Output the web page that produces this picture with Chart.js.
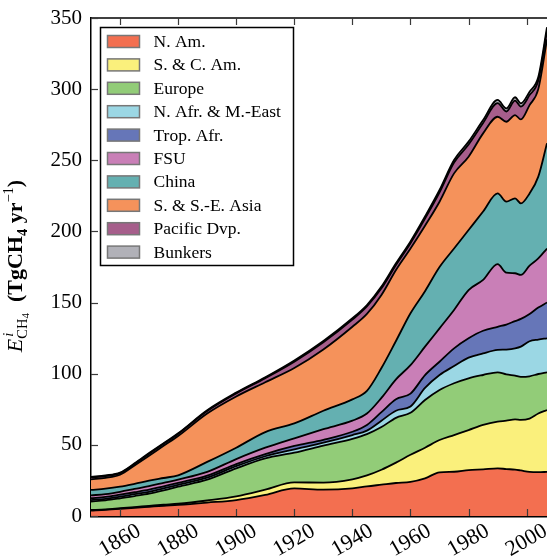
<!DOCTYPE html>
<html>
<head>
<meta charset="utf-8">
<script src="https://cdn.jsdelivr.net/npm/chart.js@4.4.1/dist/chart.umd.min.js"></script>
<style>
  html, body { margin: 0; padding: 0; background: #fff; }
</style>
</head>
<body>
<canvas id="chart" width="547" height="558"></canvas>
<script>
// data, TgCH4 per year, per region
const years = [1850,1855,1860,1865,1870,1875,1880,1890,1900,1910,1920,1930,1940,1945,1950,1955,1960,1965,1970,1975,1980,1985,1990,1993,1996,1998,2001,2004,2007];

const nAm     = [3.8,4.3,5.0,5.8,6.5,7.2,7.8,9.4,11.2,14.8,19.4,18.5,19.4,20.8,22.0,23.2,24.0,26.5,30.7,31.1,32.3,32.8,33.5,33.0,32.6,32.0,31.0,30.8,31.0];
const scAm    = [0.4,0.4,0.5,0.5,0.6,0.7,0.8,1.5,2.6,3.7,4.2,5.0,6.4,7.7,10.5,14.3,19.0,21.5,22.7,25.8,28.1,31.2,32.8,34.0,35.3,35.5,37.5,41.2,43.5];
const europe  = [6.0,6.3,6.9,7.7,8.6,10.1,12.0,14.6,19.7,22.0,20.9,26.0,28.4,29.0,30.0,31.5,29.5,33.5,35.2,36.4,36.4,35.1,34.7,32.5,30.7,30.3,29.7,27.8,26.5];
const nAfr    = [1.0,1.1,1.2,1.3,1.3,1.4,1.3,1.4,1.5,1.5,2.4,2.0,2.7,2.5,4.5,5.0,4.5,8.5,10.5,12.1,14.5,15.2,15.7,17.5,19.2,21.2,24.6,24.2,23.9];
const tropAfr = [1.3,1.3,1.4,1.4,1.5,1.5,1.4,1.5,1.5,1.5,2.3,2.0,2.3,4.0,6.0,8.0,9.0,9.0,9.3,12.4,13.6,15.9,16.3,17.5,19.2,19.5,19.2,22.5,25.1];
const fsu     = [2.0,2.0,2.0,2.3,2.5,2.4,2.3,2.6,3.5,4.5,5.4,7.5,7.8,8.0,10.0,14.0,20.0,20.0,23.5,27.0,33.9,35.7,44.0,36.5,33.6,30.9,34.0,34.5,38.0];
const china   = [3.8,3.8,3.6,3.6,3.8,3.4,3.0,7.0,8.0,11.0,10.5,13.0,15.0,16.0,21.0,27.0,36.5,39.0,43.1,43.2,42.2,48.1,49.7,49.9,52.6,50.3,50.7,57.5,74.0];
const sseAsia = [7.5,7.6,8.4,12.9,17.5,22.6,27.6,34.0,36.0,35.0,38.9,43.0,51.0,54.0,51.3,49.9,45.5,46.0,45.9,52.8,51.5,54.9,53.9,56.2,58.6,59.0,62.1,61.5,73.0];
const pacific = [1.3,1.3,1.1,1.1,1.5,1.5,1.5,1.8,2.2,2.9,4.5,5.1,5.0,5.3,4.7,3.5,3.7,5.0,6.6,7.6,8.6,7.3,9.6,7.2,10.2,9.0,7.0,6.1,6.0];
const bunkers = [0.4,0.4,0.4,0.4,0.4,0.4,0.4,0.5,0.5,0.6,0.8,0.9,1.0,1.0,1.2,1.2,1.3,1.5,1.6,1.8,2.0,2.1,2.2,2.2,2.3,2.3,2.4,2.4,2.5];

const seriesNames = ["N. Am.", "S. & C. Am.", "Europe", "N. Afr. & M.-East", "Trop. Afr.",
  "FSU", "China", "S. & S.-E. Asia", "Pacific Dvp.", "Bunkers"];
const seriesValues = [nAm, scAm, europe, nAfr, tropAfr, fsu, china, sseAsia, pacific, bunkers];
const seriesColors = ["#f36f50", "#faf07c", "#92cc78", "#9bd7e4", "#6676b8",
  "#c97fb7", "#64b0b1", "#f5925b", "#a65e8b", "#b1b1b8"];

const xTicks = [1860, 1880, 1900, 1920, 1940, 1960, 1980, 2000];
const yTicks = [0, 50, 100, 150, 200, 250, 300, 350];

const serif = "'Liberation Serif', 'DejaVu Serif', serif";

// datasets for the stack
let datasets = [];
for (let s = 0; s < seriesValues.length; s++) {
  datasets.push({
    label: seriesNames[s],
    data: years.map(function(y, i){ return {x: y, y: seriesValues[s][i]}; }),
    backgroundColor: seriesColors[s],
    borderColor: "#000",
    borderWidth: 1.8,
    pointRadius: 0,
    cubicInterpolationMode: "monotone",
    fill: s === 0 ? "origin" : "-1"
  });
}

// top spine, inward ticks
const framePlugin = {
  id: "frame",
  afterDatasetsDraw(chart){
    const ctx = chart.ctx;
    const a = chart.chartArea;
    const xs = chart.scales.x, ys = chart.scales.y;
    ctx.save();
    ctx.strokeStyle = "#000";
    ctx.lineWidth = 1.5;
    ctx.beginPath();
    ctx.moveTo(a.left, a.top);
    ctx.lineTo(a.right + 2, a.top);
    ctx.stroke();

    ctx.strokeStyle = "#3a3a3a";
    ctx.lineWidth = 1.2;
    xTicks.forEach(function(v){
      const px = Math.round(xs.getPixelForValue(v)) + 0.5;
      ctx.beginPath();
      ctx.moveTo(px, a.bottom);
      ctx.lineTo(px, a.bottom - 7);
      ctx.moveTo(px, a.top);
      ctx.lineTo(px, a.top + 7);
      ctx.stroke();
    });
    yTicks.forEach(function(v){
      const py = Math.round(ys.getPixelForValue(v)) + 0.5;
      ctx.beginPath();
      ctx.moveTo(a.left, py);
      ctx.lineTo(a.left + 7, py);
      ctx.stroke();
    });
    ctx.restore();
  },
  afterDraw(chart){
    const ctx = chart.ctx;
    const a = chart.chartArea;

    // legend box
    const lx = a.left + 9.5, ly = a.top + 9.5, lw = 193, lh = 238;
    ctx.save();
    ctx.fillStyle = "#fff";
    ctx.fillRect(lx, ly, lw, lh);
    ctx.strokeStyle = "#000";
    ctx.lineWidth = 1.5;
    ctx.strokeRect(lx, ly, lw, lh);
    ctx.font = "17.5px " + serif;
    ctx.textBaseline = "middle";
    ctx.textAlign = "left";
    for (let i = 0; i < seriesNames.length; i++) {
      const cy = ly + 14 + i * 23.4;
      ctx.fillStyle = seriesColors[i];
      ctx.fillRect(lx + 7, cy - 6, 32, 12);
      ctx.strokeStyle = "#777";
      ctx.lineWidth = 1.5;
      ctx.strokeRect(lx + 7, cy - 6, 32, 12);
      ctx.fillStyle = "#000";
      ctx.fillText(seriesNames[i], lx + 53, cy + 1);
    }
    ctx.restore();

    // y axis title: E^i_CH4 (TgCH4 yr^-1)
    const big = 22, small = 14.5, tiny = 11;
    const parts = [
      {t: "E", f: "italic " + big + "px " + serif, dy: 0},
      {t: "i", f: "italic " + small + "px " + serif, dy: -9, keep: true},
      {t: "CH", f: small + "px " + serif, dy: 5},
      {t: "4", f: tiny + "px " + serif, dy: 7},
      {t: "  (TgCH", f: "bold " + big + "px " + serif, dy: 0},
      {t: "4", f: "bold " + small + "px " + serif, dy: 5},
      {t: " yr", f: "bold " + big + "px " + serif, dy: 0},
      {t: "\u22121", f: small + "px " + serif, dy: -9},
      {t: ")", f: "bold " + big + "px " + serif, dy: 0}
    ];
    ctx.save();
    let total = 0;
    parts.forEach(function(p){
      ctx.font = p.f;
      p.w = p.keep ? 0 : ctx.measureText(p.t).width;
      total += p.w;
    });
    ctx.translate(22, 266);
    ctx.rotate(-Math.PI / 2);
    ctx.fillStyle = "#000";
    ctx.textBaseline = "alphabetic";
    let cx = -total / 2;
    parts.forEach(function(p){
      ctx.font = p.f;
      ctx.fillText(p.t, cx + (p.t === "i" ? 2 : 0), p.dy);
      cx += p.w;
    });
    ctx.restore();
  }
};

new Chart(document.getElementById("chart"), {
  type: "line",
  data: { datasets: datasets },
  plugins: [framePlugin],
  options: {
    responsive: false,
    animation: false,
    devicePixelRatio: 1,
    layout: { padding: { top: 18, left: 0, right: 0, bottom: 0 } },
    plugins: {
      legend: { display: false },
      tooltip: { enabled: false },
      filler: { drawTime: "beforeDatasetsDraw" }
    },
    scales: {
      x: {
        type: "linear",
        min: 1850,
        max: 2007,
        grid: { display: false, drawTicks: false },
        border: { display: true, color: "#000", width: 2.5 },
        afterBuildTicks: function(s){ s.ticks = xTicks.map(function(v){ return {value: v}; }); },
        afterFit: function(s){ s.height = 42; s.paddingLeft = 0; s.paddingRight = 0; },
        ticks: {
          minRotation: 30,
          maxRotation: 30,
          autoSkip: false,
          padding: 2,
          labelOffset: 19,
          color: "#000",
          font: { family: serif, size: 22 },
          callback: function(v){ return String(v); }
        }
      },
      y: {
        stacked: true,
        min: 0,
        max: 350,
        grid: { display: false, drawTicks: false },
        border: { display: true, color: "#000", width: 1.5 },
        afterBuildTicks: function(s){ s.ticks = yTicks.map(function(v){ return {value: v}; }); },
        afterFit: function(s){ s.width = 91; s.paddingTop = 0; s.paddingBottom = 0; },
        ticks: {
          padding: 9,
          color: "#000",
          font: { family: serif, size: 21 },
          callback: function(v){ return String(v); }
        }
      }
    }
  }
});
</script>
</body>
</html>
